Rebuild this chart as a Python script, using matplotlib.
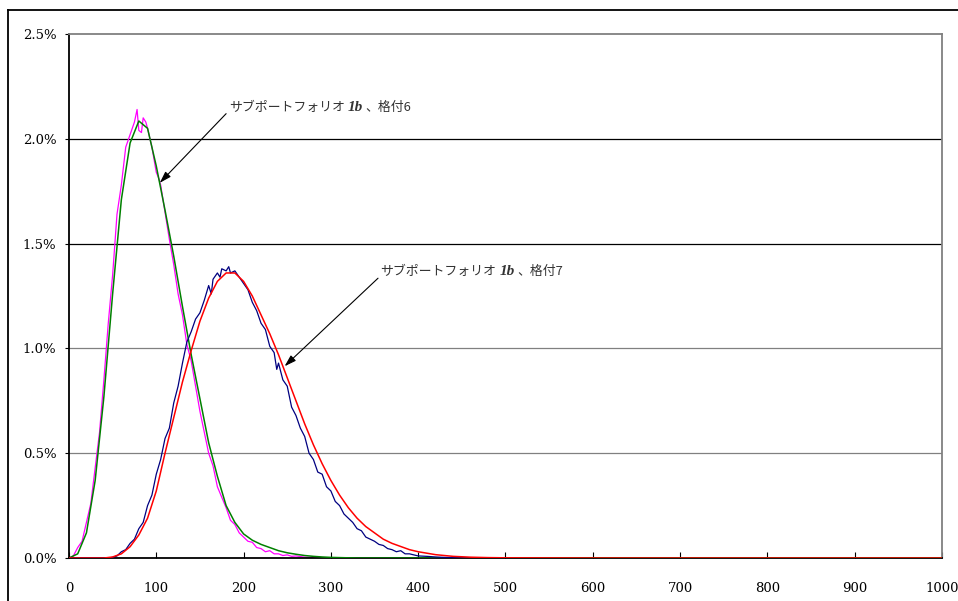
import matplotlib
matplotlib.use("Agg")
import matplotlib.pyplot as plt
from matplotlib.lines import Line2D
from matplotlib.offsetbox import TextArea, HPacker, AnnotationBbox
from matplotlib.ticker import FuncFormatter

# smooth fitted curves (percent)
fit_x = [0, 10, 20, 30, 40, 50, 60, 70, 80, 90, 100, 110, 120, 130, 140, 150,
         160, 170, 180, 190, 200, 210, 220, 230, 240, 250, 260, 270, 280, 290,
         300, 310, 320, 330, 340, 350, 360, 370, 380, 390, 400, 420, 440, 460,
         480, 500, 600, 700, 800, 900, 1000]
fit6 = [0.0, 0.02, 0.12, 0.37, 0.77, 1.26, 1.71, 1.98, 2.085, 2.05, 1.87, 1.66,
        1.44, 1.20, 0.97, 0.76, 0.55, 0.39, 0.25, 0.17, 0.115, 0.085, 0.065,
        0.05, 0.035, 0.025, 0.018, 0.012, 0.008, 0.005, 0.003, 0.002, 0.001,
        0.0, 0.0, 0.0, 0.0, 0.0, 0.0, 0.0, 0.0, 0.0, 0.0, 0.0, 0.0, 0.0, 0.0,
        0.0, 0.0, 0.0, 0.0]
fit7 = [0.0, 0.0, 0.0, 0.0, 0.0, 0.005, 0.02, 0.054, 0.11, 0.19, 0.32, 0.50,
        0.67, 0.84, 0.99, 1.13, 1.24, 1.32, 1.36, 1.36, 1.32, 1.25, 1.16, 1.07,
        0.97, 0.86, 0.75, 0.64, 0.54, 0.45, 0.37, 0.30, 0.24, 0.19, 0.15, 0.12,
        0.09, 0.07, 0.055, 0.04, 0.03, 0.016, 0.008, 0.004, 0.002, 0.001, 0.0,
        0.0, 0.0, 0.0, 0.0]

# simulated (noisy) distributions
sim6_x = [0, 5, 10, 15, 20, 25, 30, 35, 40, 45, 50, 55, 60, 65, 70, 75, 78, 80,
          83, 85, 88, 90, 95, 100, 103, 105, 110, 115, 120, 125, 130, 135, 140,
          145, 150, 155, 160, 165, 170, 175, 180, 185, 190, 195, 200, 205, 210,
          215, 220, 225, 230, 235, 240, 245, 250, 255, 260, 270, 280, 290, 300]
sim6 = [0.0, 0.01, 0.05, 0.08, 0.17, 0.26, 0.43, 0.60, 0.85, 1.12, 1.35, 1.64,
        1.78, 1.96, 2.02, 2.08, 2.14, 2.04, 2.03, 2.10, 2.08, 2.05, 1.96, 1.84,
        1.81, 1.78, 1.65, 1.52, 1.40, 1.26, 1.16, 1.02, 0.94, 0.82, 0.70, 0.60,
        0.50, 0.44, 0.34, 0.29, 0.24, 0.18, 0.16, 0.12, 0.10, 0.08, 0.075, 0.05,
        0.045, 0.03, 0.035, 0.02, 0.02, 0.012, 0.015, 0.008, 0.01, 0.004, 0.003,
        0.001, 0.0]
sim7_x = [0, 45, 50, 55, 60, 65, 70, 75, 80, 85, 90, 95, 100, 105, 110, 115,
          120, 125, 130, 135, 140, 145, 150, 155, 160, 163, 165, 170, 173, 175,
          180, 183, 185, 190, 195, 200, 205, 210, 215, 220, 225, 230, 235, 238,
          240, 245, 250, 255, 260, 265, 270, 275, 280, 285, 290, 295, 300, 305,
          310, 315, 320, 325, 330, 335, 340, 345, 350, 355, 360, 365, 370, 375,
          380, 385, 390, 395, 400, 410, 420, 430, 450, 470]
sim7 = [0.0, 0.0, 0.003, 0.01, 0.03, 0.04, 0.07, 0.09, 0.14, 0.17, 0.25, 0.30,
        0.40, 0.47, 0.57, 0.62, 0.74, 0.82, 0.93, 1.03, 1.08, 1.14, 1.17, 1.23,
        1.30, 1.26, 1.33, 1.36, 1.34, 1.38, 1.37, 1.39, 1.36, 1.37, 1.34, 1.31,
        1.28, 1.22, 1.18, 1.12, 1.09, 1.01, 0.98, 0.90, 0.93, 0.85, 0.82, 0.72,
        0.68, 0.62, 0.58, 0.50, 0.47, 0.41, 0.40, 0.34, 0.32, 0.27, 0.25, 0.21,
        0.19, 0.17, 0.14, 0.13, 0.10, 0.09, 0.08, 0.065, 0.06, 0.045, 0.04,
        0.03, 0.035, 0.02, 0.02, 0.015, 0.01, 0.008, 0.005, 0.003, 0.001, 0.0]

xticks = [0, 100, 200, 300, 400, 500, 600, 700, 800, 900, 1000]
yticks = [0.0, 0.5, 1.0, 1.5, 2.0, 2.5]

serif = "DejaVu Serif"
jp = ["Noto Sans CJK JP", "DejaVu Sans"]

fig = plt.figure(figsize=(9.58, 6.01), dpi=100)
ax = fig.add_axes([0.072, 0.0715, 0.9113, 0.8719])

# horizontal grid lines
for yv in yticks[1:-1]:
    col = "black" if yv >= 1.5 else "#808080"
    ax.axhline(yv, color=col, lw=0.9, zorder=1)

ax.plot(sim6_x, sim6, color="#FF00FF", lw=0.9, zorder=2)
ax.plot(fit_x, fit6, color="#008000", lw=1.1, zorder=3)
ax.plot(sim7_x, sim7, color="#000080", lw=0.9, zorder=4)
ax.plot(fit_x, fit7, color="#FF0000", lw=1.1, zorder=5)

ax.set_xlim(0, 1000)
ax.set_ylim(0, 2.5)
ax.set_xticks(xticks)
ax.set_yticks(yticks)
ax.yaxis.set_major_formatter(FuncFormatter(lambda v, p: "%.1f%%" % v))
ax.tick_params(axis="x", direction="in", length=4, pad=17, labelsize=9.5)
ax.tick_params(axis="y", direction="out", length=3, pad=6, labelsize=9.5)
for lab in ax.get_xticklabels() + ax.get_yticklabels():
    lab.set_fontfamily(serif)

for s in ["left", "bottom"]:
    ax.spines[s].set_color("black")
    ax.spines[s].set_linewidth(1.3)
for s in ["top", "right"]:
    ax.spines[s].set_color("#808080")
    ax.spines[s].set_linewidth(1.3)


def label(txt_pos, tip, rating):
    ax.annotate("", xy=tip, xytext=(txt_pos[0] - 3, txt_pos[1] - 0.03),
                arrowprops=dict(arrowstyle="-|>,head_length=0.7,head_width=0.22",
                                color="black", lw=0.8, shrinkA=0, shrinkB=0),
                zorder=6)
    parts = [
        TextArea("サブポートフォリオ",
                 textprops=dict(family=jp, size=9.3, color="#333333")),
        TextArea("1b", textprops=dict(family="Liberation Serif", size=11,
                                      weight="bold", style="italic",
                                      color="#333333")),
        TextArea("、格付" + rating,
                 textprops=dict(family=jp, size=9.3, color="#333333")),
    ]
    box = HPacker(children=parts, pad=0, sep=2, align="baseline")
    ab = AnnotationBbox(box, txt_pos, box_alignment=(0, 0.5), frameon=False,
                        pad=0, zorder=6)
    ax.add_artist(ab)


label((183, 2.15), (104, 1.79), "6")
label((357, 1.365), (247, 0.915), "7")

# outer frame of the chart object
fig.add_artist(Line2D([0.00835, 0.00835], [0.0, 0.9834], color="black", lw=1.3,
                      transform=fig.transFigure))
fig.add_artist(Line2D([0.00835, 1.0], [0.9834, 0.9834], color="black", lw=1.3,
                      transform=fig.transFigure))

fig.savefig("out.png", dpi=100)
